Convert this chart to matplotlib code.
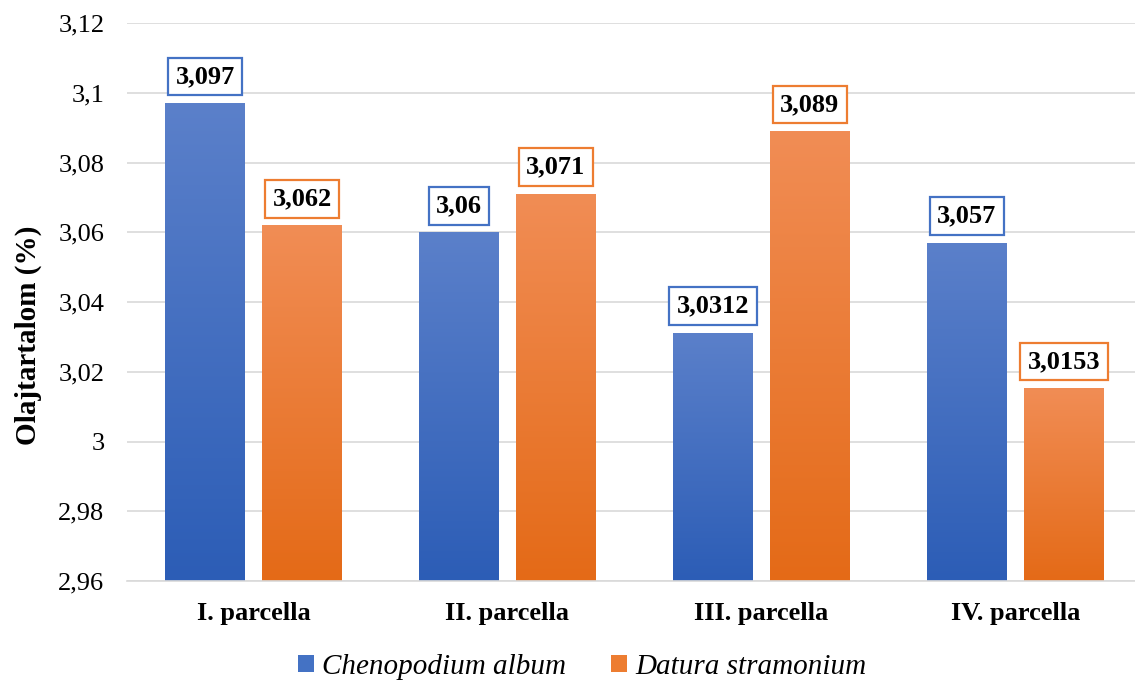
import numpy as np
import matplotlib

matplotlib.use("Agg")
import matplotlib.pyplot as plt
from matplotlib.colors import LinearSegmentedColormap
from matplotlib.patches import Patch

categories = ["I. parcella", "II. parcella", "III. parcella", "IV. parcella"]
chenopodium = [3.097, 3.06, 3.0312, 3.057]
datura = [3.062, 3.071, 3.089, 3.0153]
chenopodium_labels = ["3,097", "3,06", "3,0312", "3,057"]
datura_labels = ["3,062", "3,071", "3,089", "3,0153"]
yticks = [2.96, 2.98, 3.0, 3.02, 3.04, 3.06, 3.08, 3.1, 3.12]

BLUE = "#4472c4"
ORANGE = "#ed7d31"
BLUE_GRAD = ("#2c5db6", "#5b80ca")
ORANGE_GRAD = ("#e46a17", "#f18d55")
GRID_COLOR = "#d9d9d9"

plt.rcParams.update({
    "font.family": ["Liberation Serif", "DejaVu Serif"],
    "text.color": "black",
})

fig = plt.figure(figsize=(11.35, 6.82), dpi=100)
ax = fig.add_axes([0.1115, 0.148, 0.895, 0.818])

x = np.arange(len(categories))
width = 0.315
offset = 0.191
ymin = 2.96

bars_c = ax.bar(x - offset, np.array(chenopodium) - ymin, width, bottom=ymin,
                color="none", edgecolor="none")
bars_d = ax.bar(x + offset, np.array(datura) - ymin, width, bottom=ymin,
                color="none", edgecolor="none")

# vertical gradient fill, clipped to each bar
grad = np.linspace(0, 1, 256).reshape(-1, 1)
for bars, (lo, hi) in ((bars_c, BLUE_GRAD), (bars_d, ORANGE_GRAD)):
    cmap = LinearSegmentedColormap.from_list("g", [lo, hi])
    for bar in bars:
        x0, y0 = bar.get_x(), bar.get_y()
        w, h = bar.get_width(), bar.get_height()
        img = ax.imshow(grad, cmap=cmap, aspect="auto", origin="lower",
                        extent=(x0, x0 + w, y0, y0 + h), zorder=2)
        img.set_clip_path(bar)

for bars, labels, color in ((bars_c, chenopodium_labels, BLUE),
                            (bars_d, datura_labels, ORANGE)):
    for bar, label in zip(bars, labels):
        ax.annotate(label, (bar.get_x() + bar.get_width() / 2, bar.get_y() + bar.get_height()),
                    xytext=(0, 11), textcoords="offset points", ha="center", va="bottom",
                    fontsize=19, fontweight="bold", zorder=5,
                    bbox=dict(boxstyle="square,pad=0.28", facecolor="white",
                              edgecolor=color, linewidth=1.6))

ax.set_xlim(-0.5, len(categories) - 0.5)
ax.set_ylim(2.96, 3.12)
ax.set_yticks(yticks)
ax.set_yticklabels([f"{v:g}".replace(".", ",") for v in yticks], fontsize=19)
ax.set_xticks(x)
ax.set_xticklabels(categories, fontsize=19, fontweight="bold")
ax.tick_params(axis="both", length=0)
ax.tick_params(axis="y", pad=16)
ax.tick_params(axis="x", pad=15)

ax.grid(axis="y", color=GRID_COLOR, linewidth=1.2)
ax.set_axisbelow(True)
for side in ("top", "right", "left"):
    ax.spines[side].set_visible(False)
ax.spines["bottom"].set_color(GRID_COLOR)
ax.spines["bottom"].set_linewidth(1.2)

fig.text(28 / 1135, 1 - 335 / 682, "Olajtartalom (%)", rotation=90, ha="center", va="center",
         fontsize=21, fontweight="bold")

handles = [Patch(facecolor=BLUE, label="Chenopodium album"),
           Patch(facecolor=ORANGE, label="Datura stramonium")]
fig.legend(handles=handles, loc="center", bbox_to_anchor=(0.513, 0.022), ncol=2,
           frameon=False, prop={"size": 21, "style": "italic"},
           handlelength=0.55, handleheight=0.55, handletextpad=0.27, columnspacing=1.55)

fig.savefig("out.png", dpi=100)
